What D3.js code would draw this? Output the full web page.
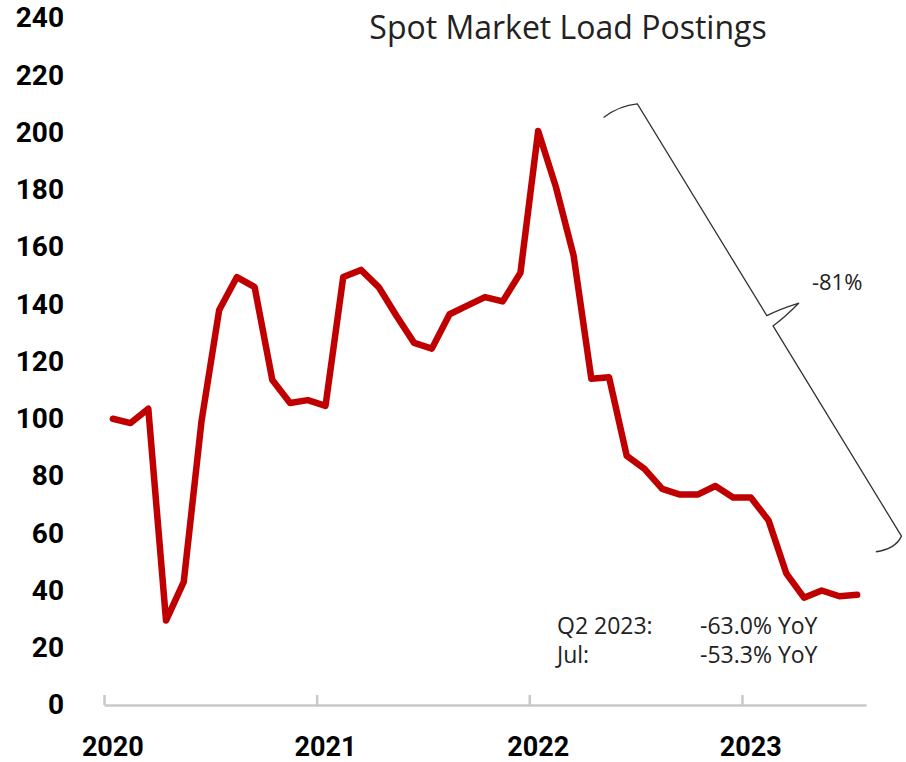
<!DOCTYPE html>
<html>
<head>
<meta charset="utf-8">
<script src="https://cdn.jsdelivr.net/npm/d3@7"></script>
<style>
  body { margin: 0; background: #fff; }
  svg { display: block; }
</style>
</head>
<body>
<div id="canvas"></div>
<script>
// monthly index, Jan 2020 = 0 ... Jul 2023 = 42
const months = d3.range(0, 43);
const postings = [
  100, 98.5, 103.5, 29.5, 43, 99, 138, 149.5, 146, 113.5, 105.5, 106.5,
  104.5, 149.5, 152, 146, 136, 126.5, 124.5, 136.5, 139.5, 142.5, 141, 151,
  200.5, 181, 157, 114, 114.5, 87, 82.5, 75.5, 73.5, 73.5, 76.5, 72.5,
  72.5, 64.5, 46, 37.5, 40, 38, 38.5
];
const yearLabels = ["2020", "2021", "2022", "2023"];
const yearStarts = [0, 12, 24, 36];
const yTicks = d3.range(0, 241, 20);
const chartTitle = "Spot Market Load Postings";
const notes = [["Q2 2023:", "-63.0% YoY"], ["Jul:", "-53.3% YoY"]];
const braceFrom = { m: 29.6, v: 210 };
const braceTo = { m: 44.5, v: 59 };
const braceLabel = "-81%";

const width = 906;
const height = 762;

const svg = d3.select("#canvas")
  .append("svg")
  .attr("width", width)
  .attr("height", height);

const x = d3.scaleLinear().domain([-0.5, 42.5]).range([104, 866]);
const y = d3.scaleLinear().domain([0, 240]).range([705, 18]);

// y axis labels only
const yAxis = svg.append("g")
  .attr("transform", "translate(64,0)")
  .call(d3.axisLeft(y).tickValues(yTicks).tickSize(0).tickPadding(0));
yAxis.select(".domain").remove();
yAxis.selectAll("text")
  .attr("font-family", "Roboto, sans-serif")
  .attr("font-weight", "bold")
  .attr("font-size", 28)
  .attr("fill", "#000");

// x axis line with year boundary ticks pointing up
const xAxis = svg.append("g")
  .attr("transform", `translate(0,${y(0)})`)
  .call(d3.axisBottom(x)
    .tickValues(yearStarts.map(d => d - 0.5))
    .tickSize(-10)
    .tickSizeOuter(0)
    .tickFormat(""));
xAxis.select(".domain").attr("stroke", "#c8c8c8").attr("stroke-width", 2.5);
xAxis.selectAll(".tick line").attr("stroke", "#c8c8c8").attr("stroke-width", 2.5);

svg.append("g")
  .selectAll("text")
  .data(yearLabels)
  .enter()
  .append("text")
  .attr("x", (d, i) => x(yearStarts[i]))
  .attr("y", 756)
  .attr("text-anchor", "middle")
  .attr("font-family", "Roboto, sans-serif")
  .attr("font-weight", "bold")
  .attr("font-size", 27)
  .attr("fill", "#000")
  .text(d => d);

// title
svg.append("text")
  .attr("x", 568)
  .attr("y", 39)
  .attr("text-anchor", "middle")
  .attr("font-family", "'Open Sans', sans-serif")
  .attr("font-size", 32)
  .attr("fill", "#222")
  .text(chartTitle);

// the series
const line = d3.line()
  .x((d, i) => x(months[i]))
  .y(d => y(d));

svg.append("path")
  .datum(postings)
  .attr("fill", "none")
  .attr("stroke", "#c00000")
  .attr("stroke-width", 6.5)
  .attr("stroke-linejoin", "round")
  .attr("stroke-linecap", "round")
  .attr("d", line);

// brace annotation
const A = [x(braceFrom.m), y(braceFrom.v)];
const B = [x(braceTo.m), y(braceTo.v)];
const L = Math.hypot(B[0] - A[0], B[1] - A[1]);
const u = [(B[0] - A[0]) / L, (B[1] - A[1]) / L];
const n = [u[1], -u[0]];
const pt = (p, a, b) => [p[0] + a * u[0] + b * n[0], p[1] + a * u[1] + b * n[1]];
const M1 = pt(A, 0.49 * L, 0);
const M2 = pt(M1, 12, 0);
const T = pt(M1, 6, 34);
const E1 = pt(A, -6, -36);
const E2 = pt(B, 0, -30);
const braceD = [
  "M", E1, "Q", pt(A, -8, -16), A,
  "L", M1,
  "Q", pt(M1, 1, 14), T,
  "Q", pt(M2, -1, 14), M2,
  "L", B,
  "Q", pt(B, 8, -12), E2
].map(v => Array.isArray(v) ? v.join(",") : v).join(" ");

svg.append("path")
  .attr("d", braceD)
  .attr("fill", "none")
  .attr("stroke", "#333")
  .attr("stroke-width", 1.3);

svg.append("text")
  .attr("x", T[0] + 13)
  .attr("y", T[1] - 13)
  .attr("font-family", "'Open Sans', sans-serif")
  .attr("font-size", 22)
  .attr("fill", "#222")
  .text(braceLabel);

// YoY notes
const noteG = svg.append("g")
  .attr("font-family", "'Open Sans', sans-serif")
  .attr("font-size", 23)
  .attr("fill", "#222");
notes.forEach((row, i) => {
  noteG.append("text").attr("x", 557).attr("y", 634 + i * 29).text(row[0]);
  noteG.append("text").attr("x", 700).attr("y", 634 + i * 29).text(row[1]);
});
</script>
</body>
</html>
